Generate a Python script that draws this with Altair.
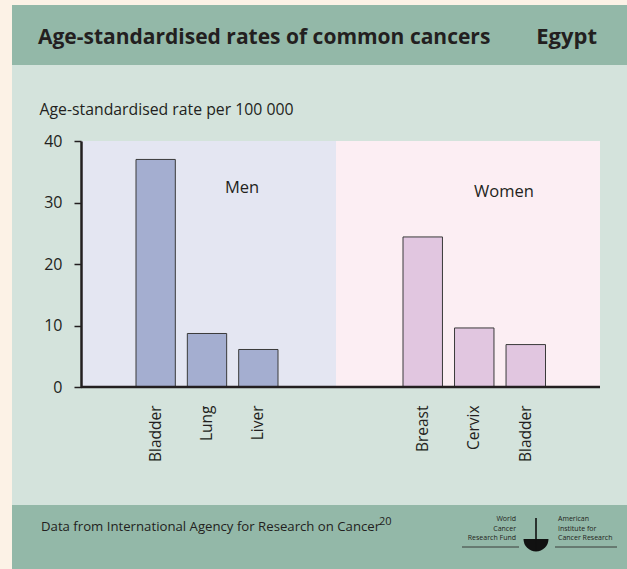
import altair as alt
import pandas as pd

# Age-standardised incidence per 100 000, Egypt
men_sites = ["Bladder", "Lung", "Liver"]
men_rates = [37.0, 8.7, 6.1]
women_sites = ["Breast", "Cervix", "Bladder"]
women_rates = [24.4, 9.6, 6.9]
y_ticks = [0, 10, 20, 30, 40]

title_text = "Age-standardised rates of common cancers"
country = "Egypt"
y_title = "Age-standardised rate per 100 000"
source_text = "Data from International Agency for Research on Cancer"
source_ref = "20"
men_label = "Men"
women_label = "Women"
logo_left_lines = ["World", "Cancer", "Research Fund"]
logo_right_lines = ["American", "Institute for", "Cancer Research"]

FONT = "Open Sans"
INK = "#231f20"
CREAM = "#fcf2e6"
BAND = "#93b8a8"
BODY = "#d4e3dc"
MEN_BG = "#e4e6f2"
WOMEN_BG = "#fceef3"
MEN_BAR = "#a4aed0"
WOMEN_BAR = "#e1c6e0"

W_MEN, W_WOMEN, H = 255, 264, 246

men_df = pd.DataFrame({"site": men_sites, "rate": men_rates})
women_df = pd.DataFrame({"site": women_sites, "rate": women_rates})
one = pd.DataFrame({"k": [0]})

y_scale = alt.Scale(domain=[0, 40], nice=False, zero=True)


def x_axis():
    return alt.Axis(
        title=None, labelAngle=-90, ticks=False, domain=False, labelPadding=18,
        labelFont=FONT, labelFontSize=15.5, labelColor=INK, zindex=1,
    )


def box(x, x2, y, y2, color):
    return alt.Chart(one).mark_rect(fill=color, strokeWidth=0).encode(
        x=alt.value(x), x2=alt.value(x2), y=alt.value(y), y2=alt.value(y2)
    )


def baseline(width):
    # horizontal zero line spanning the whole panel
    return alt.Chart(one).mark_rule(color=INK, strokeWidth=2.5).encode(
        x=alt.value(0), x2=alt.value(width),
        y=alt.datum(0, scale=y_scale),
    )


def label(text, x, y, size, weight="normal", align="left", baseline="alphabetic"):
    return alt.Chart(one).mark_text(
        text=text, font=FONT, fontSize=size, fontWeight=weight, color=INK,
        align=align, baseline=baseline,
    ).encode(x=alt.value(x), y=alt.value(y))


# Page furniture (coordinates relative to the men panel origin)
page = box(-81, 546, -141, 428, CREAM)
header = box(-69, 546, -136, -76, BAND)
body = box(-69, 546, -76, 364, BODY)
footer = box(-69, 546, 364, 428, BAND)
men_fill = box(0, W_MEN, 0, H, MEN_BG)

head_title = label(title_text, -43, -97, 21, weight="bold")
head_country = label(country, 516, -97, 22, weight="bold", align="right")
source = label(source_text, -40, 390, 13.2)
source_sup = label(source_ref, 298, 384, 11)

# Partner logo: small wordmarks with rules and a bowl emblem
logo_left = [
    label(t, 435, 380 + 9.5 * i, 7, align="right")
    for i, t in enumerate(logo_left_lines)
]
logo_right = [
    label(t, 477, 380 + 9.5 * i, 7)
    for i, t in enumerate(logo_right_lines)
]
logo_rules = alt.Chart(one).mark_rule(color=INK, strokeWidth=0.8).encode(
    x=alt.value(381), x2=alt.value(438), y=alt.value(406)
) + alt.Chart(one).mark_rule(color=INK, strokeWidth=0.8).encode(
    x=alt.value(474), x2=alt.value(536), y=alt.value(406)
)
logo_bowl = alt.Chart(one).mark_arc(
    radius=12.5, theta=1.5708, theta2=4.7124, color="#111"
).encode(x=alt.value(455), y=alt.value(398))
logo_staff = alt.Chart(one).mark_rule(color="#111", strokeWidth=1.6).encode(
    x=alt.value(455), y=alt.value(377), y2=alt.value(410)
)

men_bars = alt.Chart(men_df).mark_bar(
    fill=MEN_BAR, stroke="#3a3a3a", strokeWidth=1
).encode(
    x=alt.X("site:N", sort=men_sites, axis=x_axis(),
            scale=alt.Scale(paddingInner=0.234, paddingOuter=0, range=[55, 197])),
    y=alt.Y("rate:Q", scale=y_scale, axis=alt.Axis(
        values=y_ticks, title=y_title, titleAngle=0, titleAlign="left",
        titleBaseline="middle", titleX=-42, titleY=-32, titleFont=FONT,
        titleFontSize=15.8, titleFontWeight="normal", titleColor=INK,
        labelFont=FONT, labelFontSize=16, labelColor=INK, labelPadding=12,
        tickSize=7, tickWidth=1.5, tickColor=INK, domainColor=INK,
        domainWidth=2.5, grid=False, zindex=1,
    )),
)
men_text = label(men_label, 161, 47, 16.5, align="center", baseline="middle")

men = alt.layer(
    page, header, body, footer, men_fill, men_bars, baseline(W_MEN), men_text,
    head_title, head_country, source, source_sup,
    *logo_left, *logo_right, logo_rules, logo_bowl, logo_staff,
).properties(width=W_MEN, height=H)

women_fill = box(0, W_WOMEN, 0, H, WOMEN_BG)
women_bars = alt.Chart(women_df).mark_bar(
    fill=WOMEN_BAR, stroke="#3a3a3a", strokeWidth=1
).encode(
    x=alt.X("site:N", sort=women_sites, axis=x_axis(),
            scale=alt.Scale(paddingInner=0.234, paddingOuter=0, range=[67, 209.5])),
    y=alt.Y("rate:Q", scale=y_scale, axis=None),
)
women_text = label(women_label, 168, 51, 16.5, align="center", baseline="middle")

women = alt.layer(women_fill, women_bars, baseline(W_WOMEN), women_text).properties(
    width=W_WOMEN, height=H
)

chart = alt.hconcat(men, women, spacing=0, bounds="flush").resolve_scale(
    y="independent", x="independent"
).properties(
    autosize=alt.AutoSizeParams(type="pad"),
    padding=0,
    background=CREAM,
).configure_view(stroke=None)

chart.save("out.html", embed_options={"renderer": "svg", "actions": False})
